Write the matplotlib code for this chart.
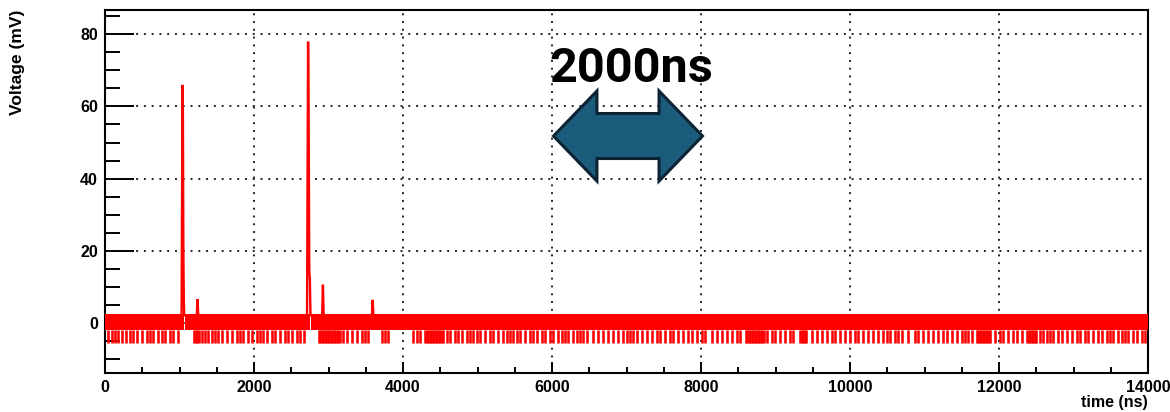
import matplotlib
matplotlib.use("Agg")
import matplotlib.pyplot as plt
from matplotlib.ticker import MultipleLocator
from matplotlib.patches import Polygon

# ---------------- data ----------------
# baseline noise band (mV) and the time segments where it is drawn (ns)
band_low = -2.0
band_high = 2.4
band_start = [0, 1078, 2768]
band_end = [1065, 2755, 14000]

# downward noise excursions (ns) reaching dip_level (mV)
dip_level = -5.8
dip_times = [45, 90, 134, 179, 224, 282, 336, 380, 425, 492, 559, 604, 649, 716, 761, 805, 873, 917, 984,
             1200, 1220, 1240, 1260,
             1298, 1342, 1387, 1432, 1477, 1521, 1566, 1633, 1700, 1767, 1812, 1857, 1924, 1969, 2036, 2081,
             2125, 2170, 2237, 2282, 2349, 2416, 2461, 2506, 2573, 2617, 2671,
             2870, 2890, 2910, 2930, 2950, 2970, 2990, 3010, 3030, 3050, 3070, 3090, 3110, 3130, 3150,
             3199, 3244, 3311, 3378, 3445, 3490, 3535, 3714, 3759, 3803, 4139, 4184, 4228,
             4300, 4320, 4340, 4360, 4380, 4400, 4420, 4440, 4460, 4480, 4500, 4520, 4540,
             4586, 4631, 4698, 4743, 4788, 4855, 4899, 4944, 4989, 5034, 5101, 5168, 5213, 5280, 5347, 5392,
             5436, 5481, 5526, 5571, 5638, 5705, 5750, 5794, 5861, 5906, 5973, 6018, 6085, 6130, 6175, 6219,
             6286, 6331, 6376, 6421, 6465, 6555, 6622, 6689, 6756, 6823, 6890, 6957,
             7002, 7047, 7092, 7137, 7204, 7271, 7338, 7405, 7450, 7517, 7584, 7629, 7696, 7763, 7830, 7875,
             7942, 8009, 8054, 8143, 8210, 8277, 8345, 8412, 8479, 8524,
             8600, 8620, 8640, 8660, 8680, 8700, 8720, 8740, 8760, 8780, 8800, 8820, 8840,
             8882, 8949, 8993, 9060, 9128, 9195, 9240,
             9330, 9350, 9370, 9390, 9410,
             9486, 9553, 9620, 9687, 9754, 9799, 9866, 9933, 10000, 10067, 10112, 10179, 10247, 10314, 10381,
             10448, 10492, 10537, 10604, 10649, 10694, 10783, 10873, 10918, 10985, 11052, 11119, 11186, 11253,
             11298, 11365, 11432, 11499, 11544, 11589, 11633,
             11700, 11720, 11740, 11760, 11780, 11800, 11820, 11840, 11860, 11880,
             11947, 12014, 12058, 12126, 12193, 12237, 12304,
             12380, 12400, 12420, 12440, 12460, 12480, 12500,
             12550, 12595, 12640, 12685, 12729, 12796, 12841, 12908, 12975, 13043, 13087, 13154, 13199, 13266,
             13333, 13378, 13445, 13490, 13535, 13602, 13647, 13691, 13736, 13803, 13848, 13915, 13960]

# pulses: time samples (ns) and voltages (mV)
pulse_t = [[1028, 1040, 1046, 1052, 1058, 1064],
           [1232, 1242, 1252],
           [2712, 2726, 2733, 2742, 2750, 2758],
           [2915, 2925, 2935],
           [3583, 3593, 3603]]
pulse_v = [[2, 66, 57, 20, 6, 2],
           [2, 6.5, 2],
           [2, 78, 60, 14.5, 12, 2],
           [2, 10.5, 2],
           [2, 6.3, 2]]

x_ticks = [0, 2000, 4000, 6000, 8000, 10000, 12000, 14000]
y_ticks = [0, 20, 40, 60, 80]

# annotation arrow span (ns) and label
arrow_x0, arrow_x1 = 6020, 8020
arrow_label = "2000ns"

# ---------------- figure ----------------
fig = plt.figure(figsize=(11.7, 4.12), dpi=100)
ax = fig.add_axes([105 / 1170, (412 - 373.3) / 412, (1148 - 105) / 1170, (373.3 - 10) / 412])

RED = "#ff0000"
for s, e in zip(band_start, band_end):
    ax.fill_between([s, e], [band_low, band_low], [band_high, band_high], color=RED, linewidth=0, zorder=3)
ax.vlines(dip_times, dip_level, band_low, color=RED, linewidth=1.85, zorder=3)
for t, v in zip(pulse_t, pulse_v):
    ax.plot(t, v, color=RED, linewidth=1.7, zorder=4, solid_joinstyle="miter")

ax.set_xlim(0, 14000)
ax.set_ylim(-14.1, 86.8)
ax.set_xticks(x_ticks)
ax.set_yticks(y_ticks)
ax.xaxis.set_minor_locator(MultipleLocator(500))
ax.yaxis.set_minor_locator(MultipleLocator(5))

ax.grid(True, which="major", color="#222222", linestyle=(0, (1, 3)), linewidth=1.4, zorder=1)
ax.set_axisbelow(True)

for sp in ax.spines.values():
    sp.set_linewidth(1.5)
    sp.set_color("black")

ax.tick_params(axis="y", which="major", direction="in", length=21, width=1.4, pad=5,
               left=True, right=False, labelsize=11.5)
ax.tick_params(axis="y", which="minor", direction="in", length=10.5, width=1.4, left=True, right=False)
ax.tick_params(axis="x", which="major", direction="in", length=8, width=1.4, pad=4.5,
               bottom=True, top=False, labelsize=11.5)
ax.tick_params(axis="x", which="minor", direction="in", length=4, width=1.4, bottom=True, top=False)
for lab in ax.get_xticklabels() + ax.get_yticklabels():
    lab.set_fontfamily("Liberation Sans")
    lab.set_fontweight("bold")

fig.text(18 / 1170, 1 - 10 / 412, "Voltage (mV)", rotation=90, ha="center", va="top",
         fontsize=12.5, fontweight="bold", family="Liberation Sans")
fig.text(1148 / 1170, 1 - 407 / 412, "time (ns)", ha="right", va="baseline",
         fontsize=11.5, fontweight="bold", family="Liberation Sans")

# double-headed block arrow
yc, head_half, shaft_half, head_len = 51.8, 12.5, 6.25, 583
verts = [(arrow_x0, yc), (arrow_x0 + head_len, yc + head_half), (arrow_x0 + head_len, yc + shaft_half),
         (arrow_x1 - head_len, yc + shaft_half), (arrow_x1 - head_len, yc + head_half), (arrow_x1, yc),
         (arrow_x1 - head_len, yc - head_half), (arrow_x1 - head_len, yc - shaft_half),
         (arrow_x0 + head_len, yc - shaft_half), (arrow_x0 + head_len, yc - head_half)]
ax.add_patch(Polygon(verts, closed=True, facecolor="#1b5c7c", edgecolor="#0c2433",
                     linewidth=2.2, joinstyle="miter", zorder=6))
ax.text((arrow_x0 + arrow_x1) / 2 + 40, 66.9, arrow_label, ha="center", va="baseline",
        fontsize=35, fontweight="bold", family="Roboto", color="black", zorder=7)

fig.savefig("out.png", dpi=100)
